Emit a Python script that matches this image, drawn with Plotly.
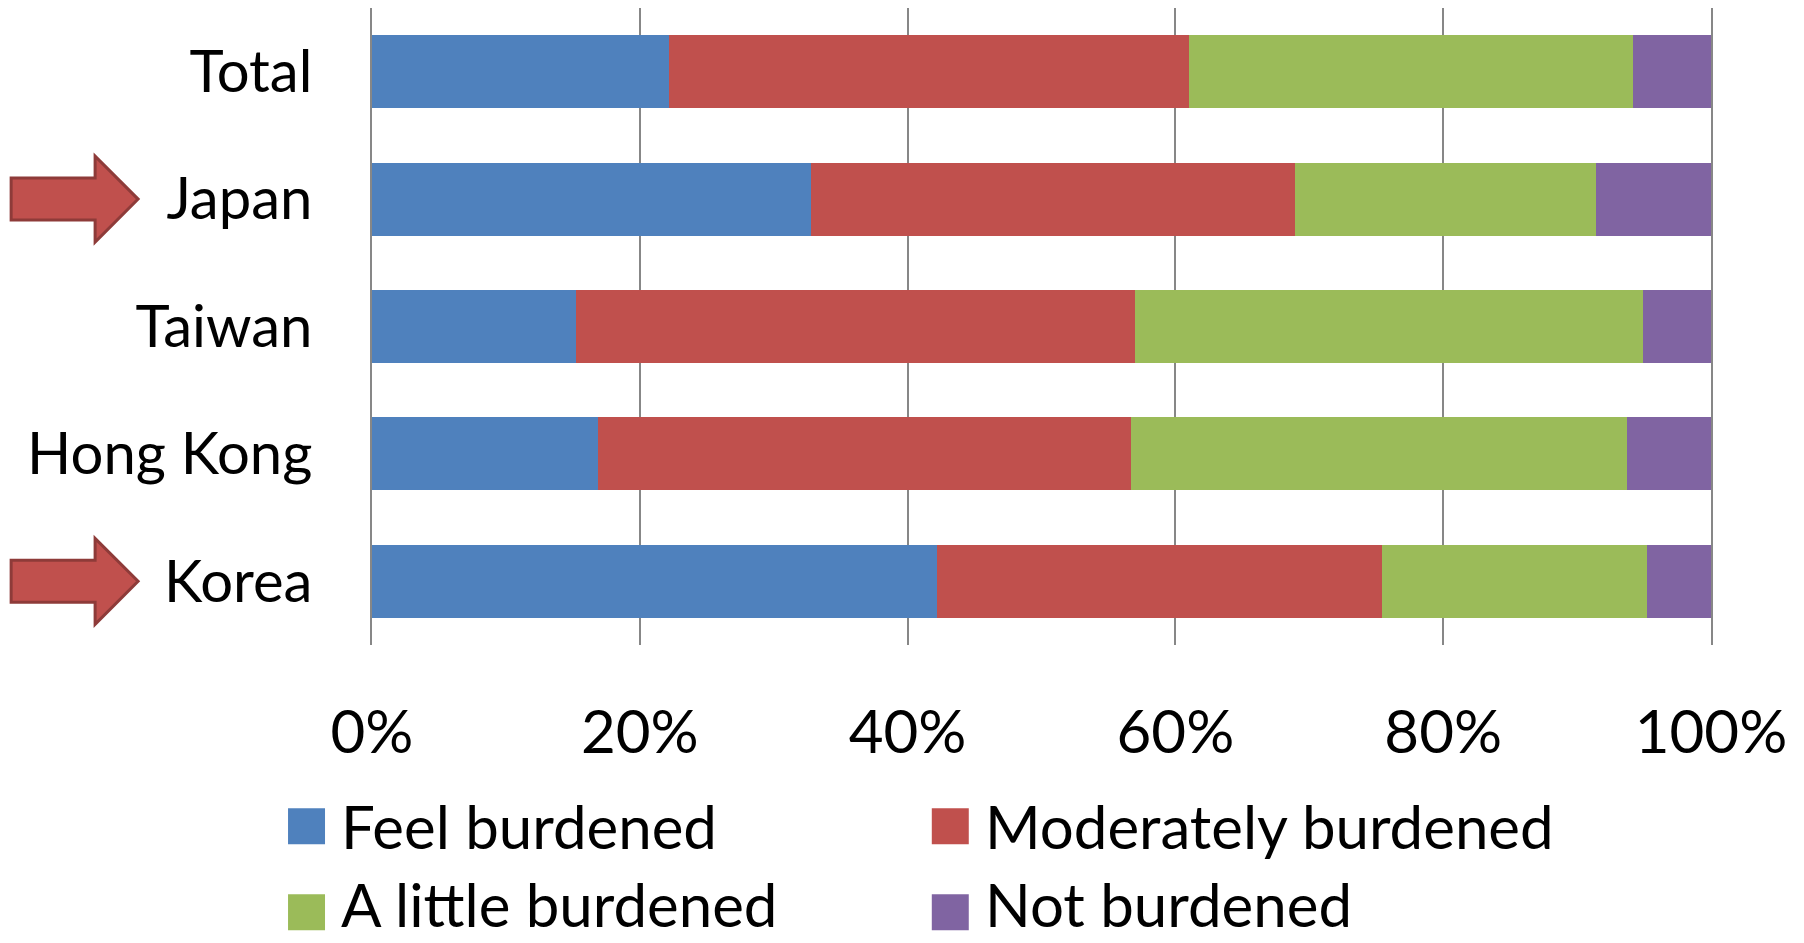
import plotly.graph_objects as go

# ---- data ----
categories = ["Total", "Japan", "Taiwan", "Hong Kong", "Korea"]
feel_burdened = [22.2, 32.8, 15.2, 16.9, 42.2]
moderately_burdened = [38.8, 36.1, 41.8, 39.8, 33.2]
little_burdened = [33.2, 22.5, 37.9, 37.0, 19.8]
not_burdened = [5.8, 8.6, 5.1, 6.3, 4.8]
series_names = ["Feel burdened", "Moderately burdened", "A little burdened", "Not burdened"]
series_values = [feel_burdened, moderately_burdened, little_burdened, not_burdened]
colors = ["#4F81BD", "#C0504D", "#9BBB59", "#8064A2"]
tick_vals = [0, 20, 40, 60, 80, 100]
tick_text = ["0%", "20%", "40%", "60%", "80%", "100%"]
highlighted = ["Japan", "Korea"]

# ---- layout geometry (pixels) ----
W, H = 1804, 943
L, R = 372, 1711.5
T, B = 8, 645.5
FONT = "Lato"
FS = 60

def px(x):
    return (x - L) / (R - L)

def py(y):
    return (B - y) / (B - T)

fig = go.Figure()
for name, vals, col in zip(series_names, series_values, colors):
    fig.add_trace(go.Bar(
        y=categories, x=vals, name=name, orientation="h",
        marker=dict(color=col, line=dict(width=0)),
        showlegend=False,
    ))

shapes = []
annotations = []

# custom legend (2 x 2 grid)
leg_cols_x = [288, 932]
leg_rows_y = [827, 913]
for i, (name, col) in enumerate(zip(series_names, colors)):
    cx = leg_cols_x[i % 2]
    cy = leg_rows_y[i // 2]
    shapes.append(dict(type="rect", xref="paper", yref="paper",
                       x0=px(cx), x1=px(cx + 37), y0=py(cy + 18), y1=py(cy - 18),
                       fillcolor=col, line=dict(width=0)))
    if i // 2 == 0:
        ann_pos = dict(y=py(cy), yanchor="middle")
    else:
        ann_pos = dict(y=py(H - 1), yanchor="bottom")
    annotations.append(dict(text=name, xref="paper", yref="paper",
                            x=px(cx + 52), xanchor="left", borderpad=0,
                            showarrow=False, font=dict(family=FONT, size=FS, color="black"),
                            **ann_pos))

# arrows pointing to highlighted categories
pitch = (B - T) / len(categories)
for cat in highlighted:
    idx = categories.index(cat)
    cy = T + (idx + 0.5) * pitch
    xl, xh, xt = 11, 95, 138
    bh, hh = 21, 43
    path = (f"M{px(xl)},{py(cy-bh)} L{px(xh)},{py(cy-bh)} L{px(xh)},{py(cy-hh)} "
            f"L{px(xt)},{py(cy)} L{px(xh)},{py(cy+hh)} L{px(xh)},{py(cy+bh)} "
            f"L{px(xl)},{py(cy+bh)} Z")
    shapes.append(dict(type="path", xref="paper", yref="paper", path=path,
                       fillcolor="#C0504D", line=dict(color="#8E3B39", width=3)))

fig.update_layout(
    width=W, height=H,
    margin=dict(l=L, r=W - R, t=T, b=H - B, pad=0),
    barmode="stack",
    bargap=0.428,
    plot_bgcolor="white",
    paper_bgcolor="white",
    font=dict(family=FONT, size=FS, color="black"),
    shapes=shapes,
    annotations=annotations,
    showlegend=False,
)
fig.update_xaxes(
    range=[0, 100], tickvals=tick_vals, ticktext=tick_text,
    showgrid=True, gridcolor="#878787", gridwidth=2,
    zeroline=False, showline=False,
    ticks="outside", ticklen=35, tickcolor="rgba(0,0,0,0)",
    tickfont=dict(family=FONT, size=FS, color="black"),
)
fig.update_yaxes(
    autorange="reversed",
    showline=True, mirror=True, linecolor="#878787", linewidth=2,
    showgrid=False, zeroline=False,
    ticks="outside", ticklen=46, tickcolor="rgba(0,0,0,0)",
    tickfont=dict(family=FONT, size=58, color="black"),
)

fig.write_html("out.html")
